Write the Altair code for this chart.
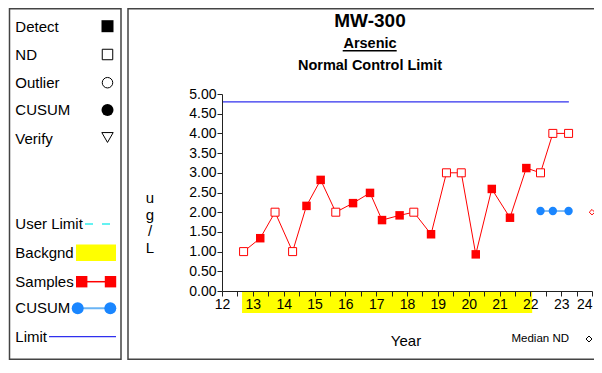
import altair as alt
import pandas as pd

# ---------------- data ----------------
sample_year = [12.70, 13.24, 13.72, 14.29, 14.74, 15.20, 15.69, 16.25, 16.80, 17.19, 17.76,
               18.22, 18.78, 19.28, 19.76, 20.23, 20.75, 21.34, 21.87, 22.33, 22.73, 23.24]
sample_value = [1.00, 1.34, 2.00, 1.00, 2.16, 2.82, 2.00, 2.23, 2.49, 1.80, 1.92,
                2.00, 1.44, 3.00, 3.00, 0.93, 2.59, 1.86, 3.12, 3.00, 4.00, 4.00]
sample_status = ["ND", "Detect", "ND", "ND", "Detect", "Detect", "ND", "Detect", "Detect", "Detect", "Detect",
                 "ND", "Detect", "ND", "ND", "Detect", "Detect", "Detect", "Detect", "ND", "ND", "ND"]
cusum_year = [22.33, 22.73, 23.24]
cusum_value = [2.03, 2.03, 2.03]
limit_value = [4.80]
limit_start = [12.0]
limit_end = [23.25]
bg_start = [12.65]
bg_end = [22.06]
median_nd_year = [24.0]
median_nd_value = [2.00]
x_ticks = [12 + 0.5 * i for i in range(25)]
y_ticks = [0.5 * i for i in range(11)]

title_main = "MW-300"
title_sub = "Arsenic"
title_sub2 = "Normal Control Limit"
y_title = ["u", "g", "/", "L"]
x_title = "Year"
median_label = "Median ND"
legend_labels = ["Detect", "ND", "Outlier", "CUSUM", "Verify",
                 "User Limit", "Backgnd", "Samples", "CUSUM", "Limit"]

# ---------------- layout ----------------
W, H = 370, 197
OX, OY = 222, 94  # page position of plot origin
FONT = "Arial, Liberation Sans, sans-serif"


def px(x):
    return x - OX


def py(y):
    return y - OY


x_scale = alt.Scale(domain=[12, 24], nice=False, zero=False)
y_scale = alt.Scale(domain=[0, 5], nice=False, zero=True)
x_axis = alt.Axis(values=x_ticks, labelExpr="datum.value % 1 == 0 ? format(datum.value, 'd') : ''",
                  labelAlign={"condition": {"test": "datum.value == 24", "value": "right"}, "value": "center"},
                  title=None, grid=False, tickSize=5, tickColor="#222", domainColor="#222",
                  labelFont=FONT, labelFontSize=14, labelColor="#000", labelPadding=1,
                  labelOverlap=False, labelFlush=False, labelBound=False, zindex=1)
y_axis = alt.Axis(values=y_ticks, format=".2f", title=None, grid=False, tickSize=5,
                  tickColor="#222", domainColor="#222", labelFont=FONT, labelFontSize=14,
                  labelColor="#000", labelPadding=1, labelOverlap=False, zindex=1)


def X(field="year"):
    return alt.X(f"{field}:Q", scale=x_scale, axis=x_axis)


def Y(field="value"):
    return alt.Y(f"{field}:Q", scale=y_scale, axis=y_axis)


samples = pd.DataFrame({"year": sample_year, "value": sample_value, "status": sample_status})
cusum = pd.DataFrame({"year": cusum_year, "value": cusum_value})
limit = pd.DataFrame({"year": limit_start, "year2": limit_end, "value": limit_value})
bg = pd.DataFrame({"year": bg_start, "year2": bg_end})
median = pd.DataFrame({"year": median_nd_year, "value": median_nd_value})
one = pd.DataFrame({"k": [0]})

layers = []

# background band below axis
layers.append(alt.Chart(bg).mark_rect(color="#ffff00").encode(
    x=X(), x2="year2:Q", y=alt.value(H + 1), y2=alt.value(H + 22)))

# limit line
layers.append(alt.Chart(limit).mark_rule(color="#3030ee", strokeWidth=1.3).encode(
    x=X(), x2="year2:Q", y=Y()))

# samples line + points
layers.append(alt.Chart(samples).mark_line(color="#ff0000", strokeWidth=1).encode(
    x=X(), y=Y(), order="year:Q"))
layers.append(alt.Chart(samples).transform_filter(alt.datum.status == "Detect").mark_point(
    shape="square", filled=True, color="#ff0000", size=72, opacity=1).encode(x=X(), y=Y()))
layers.append(alt.Chart(samples).transform_filter(alt.datum.status == "ND").mark_point(
    shape="square", filled=True, fill="#ffffff", stroke="#ff0000", strokeWidth=1, size=64,
    opacity=1).encode(x=X(), y=Y()))

# cusum
layers.append(alt.Chart(cusum).mark_line(color="#5aa8f5", strokeWidth=1.5).encode(x=X(), y=Y()))
layers.append(alt.Chart(cusum).mark_circle(color="#1a86ff", size=70, opacity=1).encode(x=X(), y=Y()))

# median ND marker
layers.append(alt.Chart(median).mark_point(shape="diamond", filled=True, fill="#ffffff",
                                           stroke="#ff0000", strokeWidth=1, size=30, opacity=1).encode(
    x=X(), y=Y()))

# ---------------- decorations ----------------
def rect(x1, y1, x2, y2, **kw):
    return alt.Chart(one).mark_rect(**kw).encode(
        x=alt.value(px(x1)), x2=alt.value(px(x2)), y=alt.value(py(y1)), y2=alt.value(py(y2)))


def text(x, y, s, **kw):
    return alt.Chart(one).mark_text(font=FONT, baseline="middle", color="#000", **kw).encode(
        x=alt.value(px(x)), y=alt.value(py(y)), text=alt.value(s))


def hline(x1, x2, y, **kw):
    return alt.Chart(one).mark_rule(**kw).encode(
        x=alt.value(px(x1)), x2=alt.value(px(x2)), y=alt.value(py(y)))


def symbol(x, y, **kw):
    return alt.Chart(one).mark_point(opacity=1, **kw).encode(
        x=alt.value(px(x)), y=alt.value(py(y)))


# panel boxes
BOX_BOTTOM = 359.3
layers.append(rect(9.5, 8.8, 121, BOX_BOTTOM, fill=None, stroke="#444", strokeWidth=1.5, filled=False))
layers.append(rect(128, 8.8, 640, BOX_BOTTOM, fill=None, stroke="#444", strokeWidth=1.5, filled=False))

# titles
layers.append(text(370, 21, title_main, fontSize=19, fontWeight="bold", align="center"))
layers.append(text(370, 44, title_sub, fontSize=14.5, fontWeight="bold", align="center"))
layers.append(hline(342.7, 396.7, 50.8, color="#000", strokeWidth=1.5))
layers.append(text(370, 66, title_sub2, fontSize=14.5, fontWeight="bold", align="center"))

# axis titles
layers.append(alt.Chart(one).mark_text(font=FONT, fontSize=15, align="center", baseline="middle",
                                       lineHeight=16.5, color="#000").encode(
    x=alt.value(px(150)), y=alt.value(py(198)), text=alt.value(y_title)))
layers.append(text(406, 341, x_title, fontSize=15, align="center"))

# median ND note
layers.append(text(511.5, 339, median_label, fontSize=11.5, align="left"))
layers.append(symbol(589, 339, shape="diamond", filled=False, stroke="#000", strokeWidth=1, size=36))

# legend panel
legend_y = [26.7, 55, 82.7, 110, 139.3, 224, 253, 281.7, 308.3, 336.7]
for lab, yy in zip(legend_labels, legend_y):
    layers.append(text(15.3, yy, lab, fontSize=15, align="left"))

layers.append(symbol(107.5, 26.2, shape="square", filled=True, color="#000", size=144))
layers.append(symbol(107.5, 54.5, shape="square", filled=False, stroke="#000", strokeWidth=1, size=110))
layers.append(symbol(107.5, 82.7, shape="circle", filled=False, stroke="#000", strokeWidth=1, size=110))
layers.append(symbol(107.5, 110, shape="circle", filled=True, color="#000", size=144))
layers.append(symbol(107.5, 137.5, shape="triangle-down", filled=False, stroke="#000", strokeWidth=1, size=130))

layers.append(hline(85, 111, 224, color="#33eeee", strokeWidth=1.5, strokeDash=[8, 9]))
layers.append(rect(76, 244.5, 116, 261, fill="#ffff00", stroke=None))
layers.append(hline(81.7, 110, 281.7, color="#ff0000", strokeWidth=1.5))
layers.append(symbol(81.7, 281.7, shape="square", filled=True, color="#ff0000", size=130))
layers.append(symbol(110.5, 281.7, shape="square", filled=True, color="#ff0000", size=130))
layers.append(hline(77.7, 110, 308.3, color="#6ab4f5", strokeWidth=2))
layers.append(symbol(77.7, 308.3, shape="circle", filled=True, color="#1a86ff", size=144))
layers.append(symbol(110.3, 308.3, shape="circle", filled=True, color="#1a86ff", size=144))
layers.append(hline(49, 116, 336.7, color="#3030ee", strokeWidth=1.3))

chart = alt.layer(*layers).properties(
    width=W, height=H,
    padding={"left": 214, "top": 86, "right": 2, "bottom": 69},
    autosize=alt.AutoSizeParams(type="none"),
    background="#ffffff",
).configure_view(stroke=None)

chart.save("out.html", embed_options={"renderer": "svg", "actions": False})
